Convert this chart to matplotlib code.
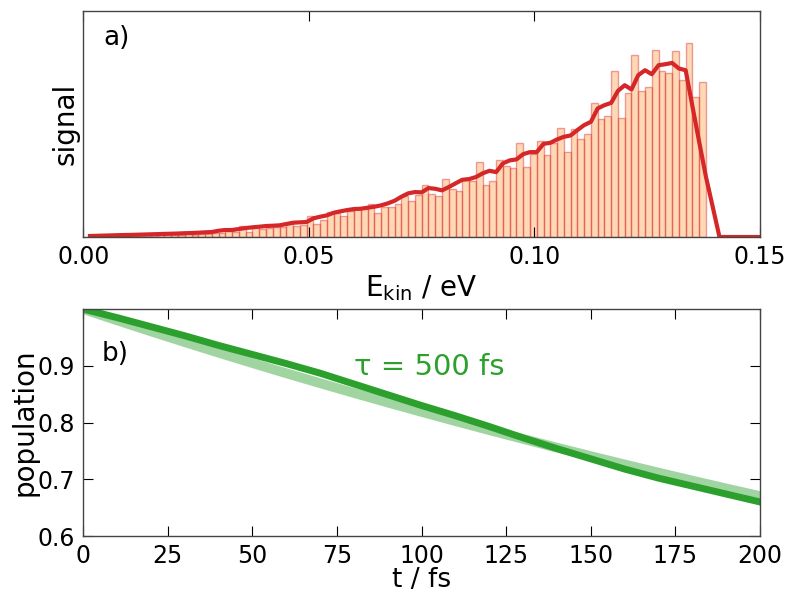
#!/usr/bin/python3
"""
Photoelectron spectrum and population decay, two-panel figure.
"""

import numpy as np
import matplotlib
matplotlib.use('Agg')
import matplotlib.pyplot as plt


# kinetic energy histogram, bin width 1.5 meV starting at 0
bin_width = 0.0015
counts = [0.3, 0.5, 0.4, 0.8, 0.6, 1.0, 0.9, 1.2, 1.0, 1.5,
          1.3, 1.8, 1.6, 2.2, 2.0, 2.8, 2.5, 3.5, 3.0, 4.5,
          3.7, 6.0, 5.3, 11.0, 5.0, 11.0, 7.7, 9.0, 9.7, 10.3,
          14.3, 10.7, 11.7, 21.3, 13.0, 17.0, 25.0, 23.7, 21.0, 26.0,
          27.7, 28.7, 33.0, 24.3, 29.7, 30.3, 33.0, 41.3, 35.7, 42.0,
          52.3, 42.7, 41.3, 58.0, 47.7, 46.3, 57.0, 56.0, 75.3, 51.7,
          56.0, 77.3, 71.0, 69.3, 93.7, 70.3, 83.0, 96.3, 82.3, 94.3,
          109.3, 85.3, 108.3, 98.3, 103.0, 133.7, 118.0, 121.3, 166.0, 118.7,
          143.7, 182.7, 146.3, 150.3, 187.0, 166.3, 164.3, 186.3, 157.7, 194.7,
          140.3, 155.3]

# broadened spectrum, sampled on the bin edges 1..100
spectrum = [1.0, 1.2, 1.4, 1.6, 1.8, 2.0, 2.1, 2.3, 2.5, 2.7,
            2.9, 3.1, 3.3, 3.5, 3.8, 4.0, 4.3, 4.7, 5.0, 6.3,
            7.0, 7.0, 8.0, 9.0, 9.7, 10.3, 11.0, 11.3, 11.7, 13.0,
            14.3, 14.7, 15.0, 18.7, 20.3, 21.7, 24.3, 25.7, 27.0, 28.0,
            28.3, 29.3, 30.3, 31.7, 33.7, 36.3, 40.3, 43.7, 45.0, 44.7,
            49.0, 48.3, 46.7, 50.0, 53.7, 57.3, 58.0, 60.0, 63.7, 66.3,
            65.0, 73.7, 76.7, 77.7, 83.0, 85.0, 85.0, 93.3, 94.3, 97.7,
            100.3, 101.7, 107.0, 112.0, 115.3, 128.7, 132.0, 134.3, 146.3, 152.0,
            147.7, 162.0, 167.0, 163.0, 172.0, 173.0, 174.3, 168.7, 167.0, 131.0,
            95.3, 60.3, 30.3, 0.0, 0.0, 0.0, 0.0, 0.0, 0.0, 0.0]

# population of the initial state
t_fs = [0, 10, 20, 30, 40, 50, 60, 70, 80, 90, 100,
        110, 120, 130, 140, 150, 160, 170, 180, 190, 200]
population = [1.000, 0.985, 0.969, 0.953, 0.936, 0.920, 0.904, 0.887, 0.868, 0.849, 0.830,
              0.812, 0.793, 0.773, 0.754, 0.736, 0.718, 0.702, 0.688, 0.674, 0.660]
tau = 500.0

plt.rcParams['font.family'] = 'DejaVu Sans'
plt.rcParams['font.size'] = 17
plt.rcParams['axes.linewidth'] = 1.0
plt.rcParams['axes.edgecolor'] = '#444444'
plt.rcParams['xtick.direction'] = 'in'
plt.rcParams['ytick.direction'] = 'in'
plt.rcParams['xtick.major.size'] = 7.5
plt.rcParams['ytick.major.size'] = 7.5
plt.rcParams['xtick.major.pad'] = 6
plt.rcParams['ytick.major.pad'] = 6

fig = plt.figure(figsize=(7.87, 5.94), dpi=100)
ax1 = fig.add_axes([0.1058, 0.601, 0.860, 0.380])
ax2 = fig.add_axes([0.1058, 0.0976, 0.860, 0.382])

# a) spectrum
edges = np.arange(len(counts)) * bin_width
ax1.bar(edges, counts, width=bin_width, align='edge',
        facecolor=(1.0, 0.5, 0.055, 0.3), edgecolor=(0.84, 0.15, 0.16, 0.42),
        linewidth=1.0)
x_line = np.arange(1, len(spectrum) + 1) * bin_width
ax1.plot(x_line, spectrum, color='tab:red', lw=3)
ax1.set_xlim(0, 0.15)
ax1.set_ylim(0, 226)
ax1.set_xticks([0.0, 0.05, 0.10, 0.15])
ax1.set_xticklabels(['0.00', '0.05', '0.10', '0.15'])
ax1.set_yticks([])
ax1.tick_params(axis='x', top=True, bottom=True)
ax1.set_xlabel(r'E$_{\mathrm{kin}}$ / eV', fontsize=20, labelpad=3)
ax1.set_ylabel('signal', fontsize=20, labelpad=3)
ax1.text(0.029, 0.88, 'a)', transform=ax1.transAxes, fontsize=19, va='center')

# b) population decay
t = np.array(t_fs, dtype=float)
ax2.plot(t, np.exp(-t / tau), color='tab:green', alpha=0.45, lw=7)
ax2.plot(t_fs, population, color='tab:green', lw=5)
ax2.set_xlim(0, 200)
ax2.set_ylim(0.6, 1.0)
ax2.set_xticks([0, 25, 50, 75, 100, 125, 150, 175, 200])
ax2.set_yticks([0.6, 0.7, 0.8, 0.9])
ax2.tick_params(top=True, right=True)
ax2.set_xlabel('t / fs', fontsize=19, labelpad=-1)
ax2.set_ylabel('population', fontsize=20, labelpad=-1)
ax2.text(0.027, 0.80, 'b)', transform=ax2.transAxes, fontsize=19, va='center')
ax2.text(80, 0.898, r'τ = 500 fs', color='tab:green', fontsize=21, va='center')

fig.savefig('out.png', dpi=100)
